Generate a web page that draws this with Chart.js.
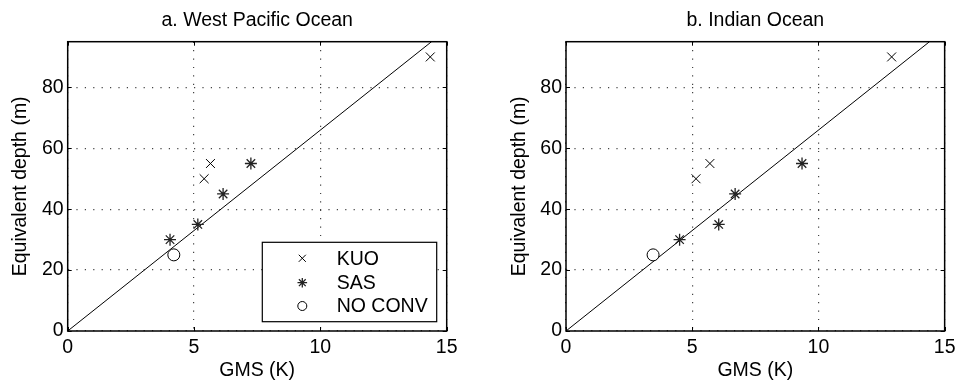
<!DOCTYPE html>
<html>
<head>
<meta charset="utf-8">
<script src="https://cdn.jsdelivr.net/npm/chart.js@4.4.0/dist/chart.umd.min.js"></script>
<style>
    body { margin: 0; background: #fff; }
    #wrap { position: relative; width: 960px; height: 387px; }
    .panel { position: absolute; top: 0; width: 480px; height: 387px; }
</style>
</head>
<body>
<div id="wrap">
    <div class="panel" style="left:0"><canvas id="canvaswp" width="480" height="387"></canvas></div>
    <div class="panel" style="left:480px"><canvas id="canvasio" width="480" height="387"></canvas></div>
</div>
<script>
var seriesLabels = ['KUO', 'SAS', 'NO CONV'];
var xTicks = [0, 5, 10, 15];
var yTicks = [0, 20, 40, 60, 80];

/* West Pacific runs */
var wpKuoX = [14.35, 5.65, 5.4];
var wpKuoY = [90, 55, 50];
var wpSasX = [4.05, 5.15, 6.15, 7.25];
var wpSasY = [30, 35, 45, 55];
var wpNoConvX = [4.2];
var wpNoConvY = [25];

/* Indian Ocean runs */
var ioKuoX = [12.9, 5.7, 5.15];
var ioKuoY = [90, 55, 50];
var ioSasX = [4.5, 6.05, 6.7, 9.35];
var ioSasY = [30, 35, 45, 55];
var ioNoConvX = [3.45];
var ioNoConvY = [25];

/* reference line through the origin */
var fitX = [0, 14.4];
var fitY = [0, 95];

var fontSize = 19.5;
Chart.defaults.font.family = "'Liberation Sans', Arial, Helvetica, sans-serif";
Chart.defaults.font.size = fontSize;
Chart.defaults.color = '#000';

var markerStyles = [
    { pointStyle: 'crossRot', radius: 6.3, legendRadius: 5, borderWidth: 1, color: '#000' },
    { pointStyle: 'star', radius: 6, legendRadius: 4.8, borderWidth: 1.3, color: '#222' },
    { pointStyle: 'circle', radius: 6, legendRadius: 4.5, borderWidth: 1, color: '#000' }
];

function toPoints(xs, ys) {
    return xs.map(function(x, i) { return { x: x, y: ys[i] }; });
}

// box round the axes plus inward tick marks, matlab style
var axesBox = {
    id: 'axesBox',
    afterDatasetsDraw: function(chart) {
        var ctx = chart.ctx, a = chart.chartArea;
        var sx = chart.scales.x, sy = chart.scales.y;
        ctx.save();
        ctx.strokeStyle = '#000';
        ctx.lineWidth = 1;
        ctx.beginPath();
        xTicks.forEach(function(v) {
            var px = Math.round(sx.getPixelForValue(v)) + 0.5;
            ctx.moveTo(px, a.bottom); ctx.lineTo(px, a.bottom - 4);
            ctx.moveTo(px, a.top); ctx.lineTo(px, a.top + 4);
        });
        yTicks.forEach(function(v) {
            var py = Math.round(sy.getPixelForValue(v)) + 0.5;
            ctx.moveTo(a.left, py); ctx.lineTo(a.left + 4, py);
            ctx.moveTo(a.right, py); ctx.lineTo(a.right - 4, py);
        });
        ctx.stroke();
        ctx.lineWidth = 1.5;
        ctx.strokeRect(a.left, a.top, a.right - a.left, a.bottom - a.top);
        ctx.restore();
    }
};

// legend in the lower right corner of the axes
var boxLegend = {
    id: 'boxLegend',
    afterDraw: function(chart, args, opts) {
        if (!opts.show) return;
        var ctx = chart.ctx, a = chart.chartArea;
        var w = 174.4, h = 79.4;
        var left = a.right - 10 - w, top = a.bottom - 9.3 - h;
        ctx.save();
        ctx.fillStyle = '#fff';
        ctx.fillRect(left, top, w, h);
        ctx.strokeStyle = '#000';
        ctx.lineWidth = 1.2;
        ctx.strokeRect(left, top, w, h);
        var rows = [16, 40.4, 63.7];
        seriesLabels.forEach(function(label, i) {
            var m = markerStyles[i];
            var y = top + rows[i];
            ctx.strokeStyle = m.color;
            ctx.fillStyle = '#fff';
            ctx.lineWidth = m.borderWidth;
            Chart.helpers.drawPoint(ctx, {
                pointStyle: m.pointStyle, radius: m.legendRadius, rotation: 0, borderWidth: m.borderWidth
            }, left + 40, y);
            ctx.fillStyle = '#000';
            ctx.font = fontSize + "px 'Liberation Sans', Arial, sans-serif";
            ctx.textAlign = 'left';
            ctx.textBaseline = 'middle';
            ctx.fillText(label, left + 74.4, y + 1);
        });
        ctx.restore();
    }
};

function makePanel(canvasId, title, kuoX, kuoY, sasX, sasY, ncX, ncY, padLeft, padRight, withLegend) {
    var sets = [toPoints(kuoX, kuoY), toPoints(sasX, sasY), toPoints(ncX, ncY)];
    var datasets = sets.map(function(pts, i) {
        var m = markerStyles[i];
        return {
            label: seriesLabels[i],
            data: pts,
            pointStyle: m.pointStyle,
            pointRadius: m.radius,
            pointBorderWidth: m.borderWidth,
            pointBorderColor: m.color,
            pointBackgroundColor: '#fff',
            borderColor: m.color,
            backgroundColor: '#fff'
        };
    });
    datasets.push({
        label: 'fit',
        data: toPoints(fitX, fitY),
        showLine: true,
        pointRadius: 0,
        borderWidth: 1,
        borderColor: '#000'
    });

    var ctx = document.getElementById(canvasId).getContext('2d');
    return new Chart(ctx, {
        type: 'scatter',
        data: { datasets: datasets },
        plugins: [axesBox, boxLegend],
        options: {
            responsive: false,
            animation: false,
            events: [],
            layout: { padding: { left: padLeft, right: padRight, top: 0, bottom: 0 } },
            plugins: {
                legend: { display: false },
                tooltip: { enabled: false },
                boxLegend: { show: withLegend },
                title: {
                    display: true,
                    text: title,
                    fullSize: false,
                    font: { size: fontSize, weight: 'normal' },
                    padding: { top: 8.8, bottom: 9.5 }
                }
            },
            scales: {
                x: {
                    type: 'linear',
                    min: 0,
                    max: 15,
                    afterBuildTicks: function(axis) {
                        axis.ticks = xTicks.map(function(v) { return { value: v }; });
                    },
                    afterFit: function(scale) { scale.height = 56; },
                    ticks: { padding: 4.5 },
                    grid: { color: '#444', lineWidth: 1.2, drawTicks: false },
                    border: { display: false, dash: [1.2, 7.2] },
                    title: { display: true, text: 'GMS (K)', padding: { top: 0, bottom: 4.3 } }
                },
                y: {
                    type: 'linear',
                    min: 0,
                    max: 95,
                    afterBuildTicks: function(axis) {
                        axis.ticks = yTicks.map(function(v) { return { value: v }; });
                    },
                    afterFit: function(scale) { scale.width = 67.7; },
                    ticks: { padding: 4 },
                    grid: { color: '#444', lineWidth: 1.2, drawTicks: false },
                    border: { display: false, dash: [1.2, 7.2] },
                    title: { display: true, text: 'Equivalent depth (m)', padding: { top: 9.4, bottom: 0 } }
                }
            }
        }
    });
}

makePanel('canvaswp', 'a. West Pacific Ocean', wpKuoX, wpKuoY, wpSasX, wpSasY, wpNoConvX, wpNoConvY, 0, 33.3, true);
makePanel('canvasio', 'b. Indian Ocean', ioKuoX, ioKuoY, ioSasX, ioSasY, ioNoConvX, ioNoConvY, 18.3, 14.7, false);
</script>
</body>
</html>
